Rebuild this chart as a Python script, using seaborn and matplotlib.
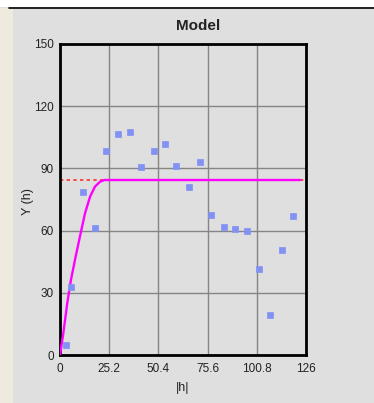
import matplotlib
matplotlib.use("Agg")
import matplotlib.pyplot as plt
import seaborn as sns
import pandas as pd
from matplotlib.patches import Rectangle
from matplotlib.lines import Line2D

# Experimental variogram points
lag = [3.1, 5.8, 11.8, 18.1, 23.7, 29.5, 35.9, 41.6, 48.0, 53.6, 59.6,
       65.9, 71.7, 77.3, 83.8, 89.6, 95.8, 101.8, 107.6, 113.7, 119.5]
gamma = [5.0, 32.8, 78.8, 61.1, 98.4, 106.6, 107.6, 90.8, 98.4, 101.6, 91.3,
         80.9, 92.9, 67.7, 61.7, 60.8, 59.6, 41.5, 19.1, 50.8, 67.2]

# Model curve
model_h = [0, 1.7, 3.7, 5.6, 8.0, 10.2, 12.8, 15.4, 17.9, 20.5, 22.7, 123.0]
model_g = [0, 10.5, 24.9, 36.2, 47.4, 57.1, 68.3, 76.4, 81.2, 83.6, 84.4, 84.4]
sill = 84.2

x_ticks = [0, 25.2, 50.4, 75.6, 100.8, 126]
x_tick_labels = ["0", "25.2", "50.4", "75.6", "100.8", "126"]
y_ticks = [0, 30, 60, 90, 120, 150]

bg = "#DFDFDF"
sns.set_theme(style="white")
plt.rcParams["font.family"] = ["Liberation Sans", "DejaVu Sans"]

W, H = 374, 403
fig = plt.figure(figsize=(W / 100, H / 100), dpi=100, facecolor=bg)

# frame decorations
fig.patches.append(Rectangle((0, (H - 7) / H), 1, 7 / H, transform=fig.transFigure,
                             facecolor="white", edgecolor="none", zorder=0))
fig.patches.append(Rectangle((0, 0), 13 / W, (H - 8) / H, transform=fig.transFigure,
                             facecolor="#EEEBDE", edgecolor="none", zorder=0))
fig.lines.append(Line2D([9 / W, 1], [(H - 7.5) / H, (H - 7.5) / H], transform=fig.transFigure,
                        color="black", lw=1.2))

ax = fig.add_axes([60 / W, 1 - 355 / H, 246 / W, 311 / H])
ax.set_facecolor(bg)

pts = pd.DataFrame({"h": lag, "g": gamma})
mdl = pd.DataFrame({"h": model_h, "g": model_g})

ax.axhline(sill, color="#FF3030", lw=1.2, ls=(0, (2, 2)), zorder=2)
sns.lineplot(data=mdl, x="h", y="g", ax=ax, color="#FF00FF", lw=1.7, zorder=3,
             estimator=None, sort=False)
sns.scatterplot(data=pts, x="h", y="g", ax=ax, marker="s", s=17, color="#8292F4",
                edgecolor="#8292F4", linewidth=0.5, zorder=4)

ax.set_xlim(0, 126)
ax.set_ylim(0, 150)
ax.set_xticks(x_ticks)
ax.set_xticklabels(x_tick_labels)
ax.set_yticks(y_ticks)
ax.grid(True, color="#858585", lw=1.0)
ax.set_axisbelow(True)
for s in ax.spines.values():
    s.set_color("black")
    s.set_linewidth(2)
ax.tick_params(axis="both", labelsize=8.5, colors="#222222", length=3, width=1,
               pad=1.5)
ax.tick_params(axis="x", length=0, pad=6)
ax.set_xlabel("|h|", fontsize=9, color="#222222")
ax.set_ylabel("Y (h)", fontsize=9, color="#222222")
ax.xaxis.set_label_coords(0.5, -(388 - 355) / 311)
ax.yaxis.set_label_coords((28 - 60) / 246, (355 - 202) / 311)
ax.xaxis.label.set_va("center")
ax.yaxis.label.set_va("center")

fig.text(198 / W, 1 - 26 / H, "Model", ha="center", va="center", fontsize=11,
         fontweight="bold", color="#222222")

fig.savefig("out.png", dpi=100, facecolor=fig.get_facecolor())
